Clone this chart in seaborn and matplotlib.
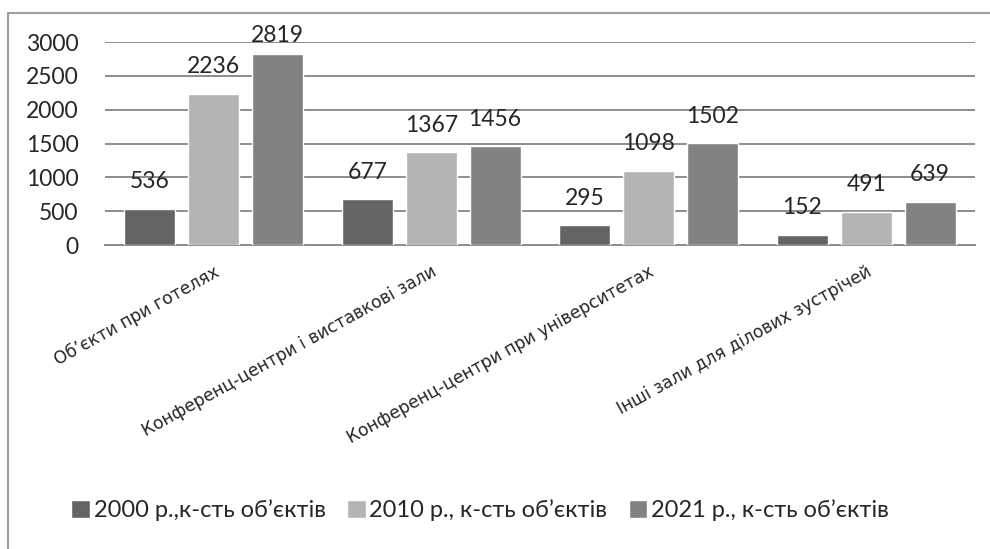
import matplotlib
matplotlib.use("Agg")
import matplotlib.pyplot as plt
from matplotlib.lines import Line2D
import seaborn as sns
import pandas as pd

categories = [
    "Об\u2019єкти при готелях",
    "Конференц-центри і виставкові зали",
    "Конференц-центри при університетах",
    "Інші зали для ділових зустрічей",
]
series_names = [
    "2000 р.,к-сть об\u2019єктів",
    "2010 р., к-сть об\u2019єктів",
    "2021 р., к-сть об\u2019єктів",
]
values_2000 = [536, 677, 295, 152]
values_2010 = [2236, 1367, 1098, 491]
values_2021 = [2819, 1456, 1502, 639]
y_ticks = [0, 500, 1000, 1500, 2000, 2500, 3000]

colors = ["#646464", "#b4b4b4", "#828282"]

rows = []
for name, vals in zip(series_names, [values_2000, values_2010, values_2021]):
    for cat, v in zip(categories, vals):
        rows.append({"category": cat, "series": name, "value": v})
df = pd.DataFrame(rows)

sns.set_theme(style="white")
plt.rcParams["font.family"] = ["Lato", "DejaVu Sans"]

fig = plt.figure(figsize=(9.9, 5.49), dpi=100)
ax = fig.add_axes([105 / 990, 1 - 245 / 549, 870 / 990, 203 / 549])

sns.barplot(
    data=df, x="category", y="value", hue="series",
    palette=colors, width=0.88, gap=0.2, saturation=1,
    ax=ax, legend=True, zorder=3,
)

ax.set_ylim(0, 3000)
ax.set_xlim(-0.5, len(categories) - 0.5)
ax.set_yticks(y_ticks)
ax.set_yticklabels([str(t) for t in y_ticks], fontsize=16.5)
ax.yaxis.grid(True, color="#8c8c8c", linewidth=1.4, zorder=0)
ax.set_axisbelow(True)
for s in ["left", "right", "top"]:
    ax.spines[s].set_visible(False)
ax.spines["bottom"].set_color("#8c8c8c")
ax.spines["bottom"].set_linewidth(1.4)
ax.tick_params(axis="y", length=0, pad=19)
ax.set_xlabel("")
ax.set_ylabel("")

ax.set_xticks(range(len(categories)))
ax.set_xticklabels(categories, rotation=29, ha="right", rotation_mode="anchor")
ax.tick_params(axis="x", length=0, pad=13)
for lbl in ax.get_xticklabels():
    lbl.set_fontfamily("DejaVu Sans")
    lbl.set_fontsize(12.3)

# value labels above each bar, kept inside the chart's top margin
px_per_unit = 203 / 3000
for cont in ax.containers:
    for bar in cont:
        h = bar.get_height()
        y = min(h + 27 / px_per_unit, 3000 + 7 / px_per_unit)
        ax.text(bar.get_x() + bar.get_width() / 2, y, f"{int(round(h))}",
                ha="center", va="center", fontsize=16.5, clip_on=False)

handles, labels = ax.get_legend_handles_labels()
ax.get_legend().remove()
fig.legend(handles, labels, loc="center", bbox_to_anchor=(480 / 990, 1 - 510 / 549),
           ncol=3, frameon=False, fontsize=17, handlelength=0.8, handleheight=0.8,
           handletextpad=0.15, columnspacing=0.9)

# outer chart border (left and top edges)
fig.add_artist(Line2D([8 / 990, 8 / 990], [0, 1 - 13 / 549], transform=fig.transFigure,
                      color="#a0a0a0", linewidth=1.5))
fig.add_artist(Line2D([8 / 990, 1], [1 - 13 / 549, 1 - 13 / 549], transform=fig.transFigure,
                      color="#a0a0a0", linewidth=1.5))

fig.savefig("out.png", dpi=100)
